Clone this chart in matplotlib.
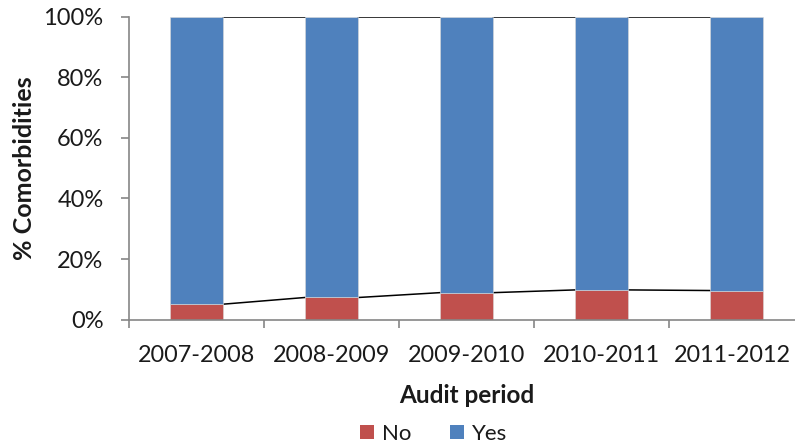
import matplotlib
matplotlib.use("Agg")
import matplotlib.pyplot as plt
import matplotlib.transforms as mtransforms
from matplotlib.patches import Patch
import numpy as np

plt.rcParams['font.family'] = ['Lato', 'DejaVu Sans']

categories = ["2007-2008", "2008-2009", "2009-2010", "2010-2011", "2011-2012"]
no_vals = [5.1, 7.3, 8.9, 9.8, 9.6]
yes_vals = [100 - v for v in no_vals]
series_names = ["No", "Yes"]
colors = ["#C0504D", "#4F81BD"]
pct_ticks = [0, 20, 40, 60, 80, 100]

fig = plt.figure(figsize=(7.95, 4.47), dpi=100)
L, R = 129.2, 804.2
top_px, bot_px = 16.7, 319.6
ax = fig.add_axes([L / 795, (447 - bot_px) / 447, (R - L) / 795, (bot_px - top_px) / 447])

x = np.arange(len(categories))
w = 0.396
ax.bar(x, no_vals, width=w, color=colors[0], edgecolor="#D9D9D9", linewidth=0.4, zorder=2)
ax.bar(x, yes_vals, width=w, bottom=no_vals, color=colors[1], edgecolor="#D9D9D9", linewidth=0.4, zorder=2)

# series lines
for i in range(len(categories) - 1):
    ax.plot([x[i] + w / 2, x[i + 1] - w / 2], [no_vals[i], no_vals[i + 1]], color="black", lw=1.1, zorder=1)
    ax.plot([x[i] + w / 2, x[i + 1] - w / 2], [100, 100], color="black", lw=1.1, zorder=1)

ax.set_xlim(-0.5, len(categories) - 0.5)
ax.set_ylim(0, 100)
ax.set_yticks(pct_ticks)
ax.set_yticklabels([f"{v}%" for v in pct_ticks])
ax.set_xticks(x)
ax.set_xticklabels(categories)
ax.set_xticks(np.arange(-0.5, len(categories), 1), minor=True)
ax.tick_params(axis='x', which='major', length=0, labelsize=16.8, labelcolor="#1a1a1a", pad=18)
ax.tick_params(axis='x', which='minor', length=5.5, width=1.2, color="#868686", direction='out')
ax.tick_params(axis='y', length=5.5, width=1.2, color="#868686", direction='out', labelsize=17,
               labelcolor="#1a1a1a", pad=13)

# keep the last category label inside the canvas (as the reference does)
last = ax.get_xticklabels()[-1]
last.set_transform(last.get_transform() + mtransforms.ScaledTranslation(-4 / 100, 0, fig.dpi_scale_trans))

for s in ["top", "right"]:
    ax.spines[s].set_visible(False)
for s in ["left", "bottom"]:
    ax.spines[s].set_color("#868686")
    ax.spines[s].set_linewidth(1.2)

ax.set_xlabel("Audit period", fontsize=17.5, fontweight='bold', color="#1a1a1a")
ax.xaxis.set_label_coords(0.5, (bot_px - 384) / (bot_px - top_px))
ax.set_ylabel("% Comorbidities", fontsize=18, fontweight='bold', color="#1a1a1a")
ax.yaxis.set_label_coords((36 - L) / (R - L), 0.5)

handles = [Patch(facecolor=c, edgecolor='none') for c in colors]
fig.legend(handles, series_names, loc='center', bbox_to_anchor=(433.5 / 795, 1 - 434 / 447),
           ncol=2, frameon=False, fontsize=16, handlelength=0.63, handleheight=0.63,
           columnspacing=1.76, handletextpad=0.36, labelcolor="#1a1a1a")

fig.savefig("out.png", dpi=100)
